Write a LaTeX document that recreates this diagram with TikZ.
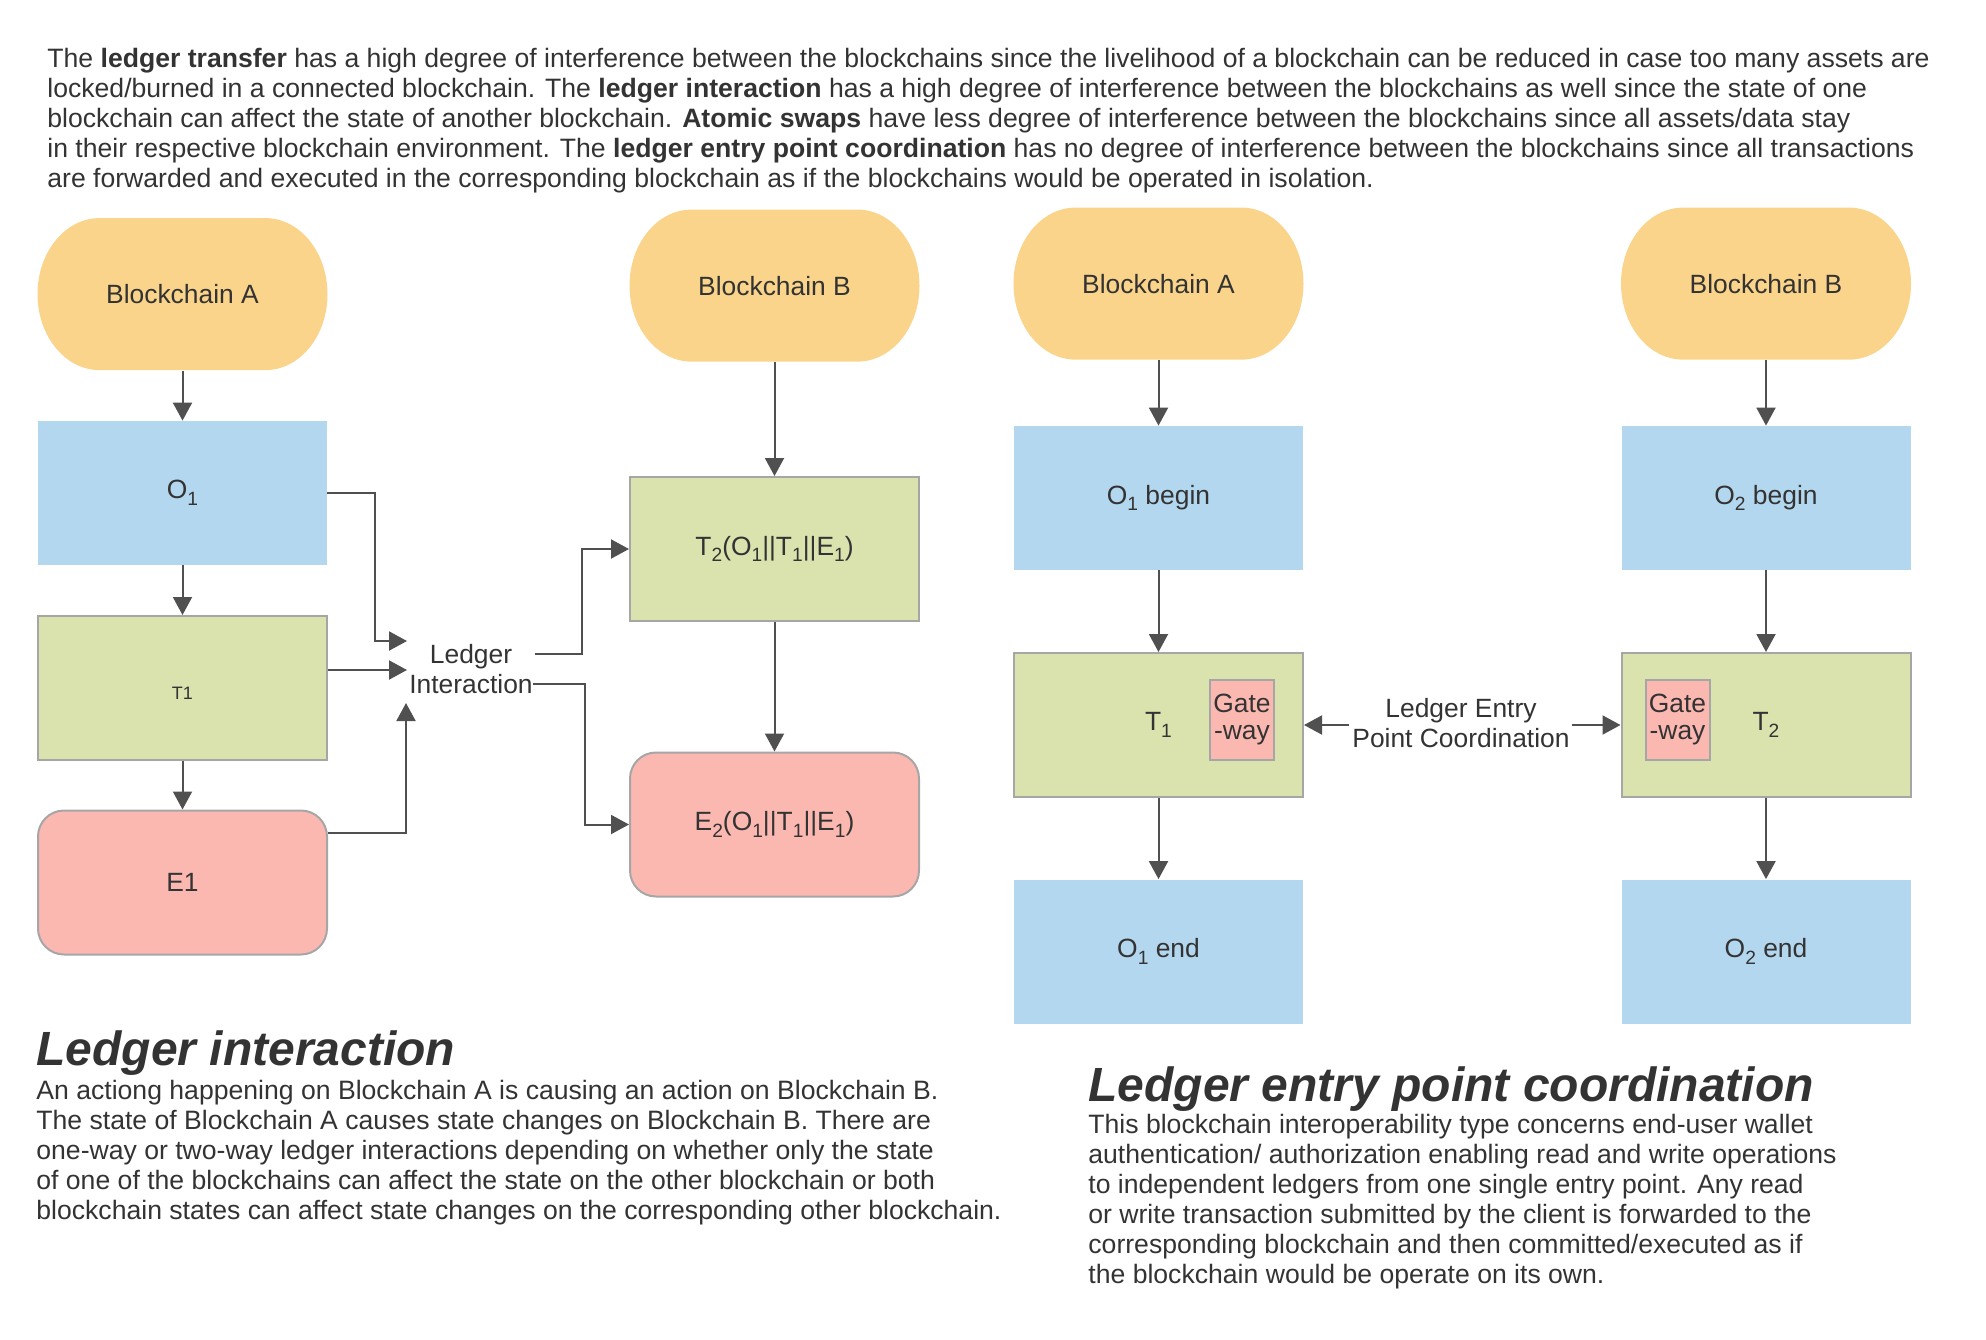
\documentclass[tikz,border=0pt]{standalone}
\usepackage{fontspec}
\setmainfont{Liberation Sans}
\usetikzlibrary{arrows.meta,backgrounds,calc}
\definecolor{txtC}{HTML}{333333}
\definecolor{chainC}{HTML}{FAD48A}
\definecolor{blueC}{HTML}{B3D7EE}
\definecolor{greenC}{HTML}{DAE2AE}
\definecolor{pinkC}{HTML}{FBB8B1}
\definecolor{borderC}{HTML}{A6A6A6}
\definecolor{arrC}{HTML}{505050}
\newcommand\sbs[1]{\raisebox{-3.4pt}{\fontsize{9.6}{10}\selectfont #1}}
\tikzset{
  bbox/.style={rectangle, minimum width=144.5pt, minimum height=72pt, inner sep=0pt,
    font=\fontsize{13.2}{15}\selectfont, text=txtC, align=center},
  bluebox/.style={bbox, fill=blueC},
  greenbox/.style={bbox, fill=greenC, draw=borderC, line width=1pt},
  pinkbox/.style={bbox, fill=pinkC, draw=borderC, line width=1pt, rounded corners=13pt},
  chainbox/.style={bbox, minimum height=76pt},
  gatebox/.style={rectangle, fill=pinkC, draw=borderC, line width=1pt, minimum width=32pt,
    minimum height=40pt, inner sep=0pt, font=\fontsize{13.2}{13.5}\selectfont, text=txtC, align=center},
  labtext/.style={inner sep=0pt, font=\fontsize{13.2}{15}\selectfont, text=txtC, align=center},
  paratext/.style={inner sep=0pt, font=\fontsize{13.3}{15}\selectfont, text=txtC, align=left, anchor=north west},
  headtext/.style={inner sep=0pt, font=\fontsize{24}{28}\selectfont\bfseries\itshape, text=txtC, anchor=base west},
  conn/.style={draw=arrC, line width=1pt, -{Triangle[length=9pt,width=9.5pt]}},
}
\begin{document}
\begin{tikzpicture}[x=0.5pt,y=-0.5pt]
\useasboundingbox (0,0) rectangle (1986,1339);

% top paragraph
\node[paratext] (intro) at (47,48) {The \textbf{ledger transfer} has a high degree of interference between the blockchains since the livelihood of a blockchain can be reduced in case too many assets are\\
locked/burned in a connected blockchain. The \textbf{ledger interaction} has a high degree of interference between the blockchains as well since the state of one\\
blockchain can affect the state of another blockchain. \textbf{Atomic swaps} have less degree of interference between the blockchains since all assets/data stay\\
in their respective blockchain environment. The \textbf{ledger entry point coordination} has no degree of interference between the blockchains since all transactions\\
are forwarded and executed in the corresponding blockchain as if the blockchains would be operated in isolation.};

% ---------- Ledger interaction ----------
\node[chainbox] (BA1) at (182.5,294.5) {Blockchain A};
\node[bluebox] (O1) at (182.5,493) {O\sbs{1}};
\node[greenbox] (T1) at (182.5,688) {\raisebox{-5.7pt}[0pt][0pt]{\fontsize{9}{10}\selectfont T1}};
\node[pinkbox] (E1) at (182.5,882.5) {E1};

\node[chainbox] (BB1) at (774.5,286) {Blockchain B};
\node[greenbox] (T2) at (774.5,549) {T\sbs{2}(O\sbs{1}||T\sbs{1}||E\sbs{1})};
\node[pinkbox] (E2) at (774.5,824.5) {E\sbs{2}(O\sbs{1}||T\sbs{1}||E\sbs{1})};

\node[labtext] (LI) at (471,669) {Ledger\\Interaction};
\coordinate (inA) at (407,641);
\coordinate (inB) at (407,670);
\coordinate (inC) at (406,703);

\draw[conn] (BA1) -- (O1);
\draw[conn] (O1) -- (T1);
\draw[conn] (T1) -- (E1);
\draw[conn] (BB1) -- (T2);
\draw[conn] (T2) -- (E2);
\draw[conn] (O1.east) -- ++(48,0) |- (inA);
\draw[conn] (T1.east |- inB) -- (inB);
\draw[conn] ($(E1.north east)+(0,23)$) -| (inC);
\draw[conn] ($(LI.east)+(2,-15)$) -- ++(47,0) |- (T2.west);
\draw[conn] ($(LI.east)+(0,15)$) -- ++(52,0) |- (E2.west);

% ---------- Ledger entry point coordination ----------
\node[chainbox] (BA2) at (1158.5,284) {Blockchain A};
\node[bluebox] (O1b) at (1158.5,498) {O\sbs{1} begin};
\node[greenbox] (T1b) at (1158.5,725) {T\sbs{1}};
\node[bluebox] (O1e) at (1158.5,951.5) {O\sbs{1} end};
\node[gatebox] (G1) at (1242,720) {Gate\\-way};

\node[chainbox] (BB2) at (1766,284) {Blockchain B};
\node[bluebox] (O2b) at (1766,498) {O\sbs{2} begin};
\node[greenbox] (T2b) at (1766,725) {T\sbs{2}};
\node[bluebox] (O2e) at (1766,951.5) {O\sbs{2} end};
\node[gatebox] (G2) at (1677.5,719.5) {Gate\\-way};

\node[labtext] (LEPC) at (1461,723) {Ledger Entry\\Point Coordination};

\draw[conn] (BA2) -- (O1b);
\draw[conn] (O1b) -- (T1b);
\draw[conn] (T1b) -- (O1e);
\draw[conn] (BB2) -- (O2b);
\draw[conn] (O2b) -- (T2b);
\draw[conn] (T2b) -- (O2e);
\draw[conn] ($(LEPC.west |- T1b.east)+(-3,0)$) -- (T1b.east);
\draw[conn] ($(LEPC.east |- T2b.west)+(2,0)$) -- (T2b.west);

% blockchain pill shapes
\begin{scope}[on background layer]
\foreach \n in {BA1,BB1,BA2,BB2}
  \fill[chainC] (\n.north) ++(-83,0) -- ++(166,0)
    arc[start angle=-90,end angle=90,x radius=62,y radius=76]
    -- ++(-166,0)
    arc[start angle=90,end angle=270,x radius=62,y radius=76] -- cycle;
\end{scope}

% bottom texts
\node[headtext] (H1) at (36,1065) {Ledger interaction};
\node[paratext] (P1) at (36,1080) {An actiong happening on Blockchain A is causing an action on Blockchain B.\\
The state of Blockchain A causes state changes on Blockchain B. There are\\
one-way or two-way ledger interactions depending on whether only the state\\
of one of the blockchains can affect the state on the other blockchain or both\\
blockchain states can affect state changes on the corresponding other blockchain.};

\node[headtext] (H2) at (1088,1101) {Ledger entry point coordination};
\node[paratext] (P2) at (1088,1114) {This blockchain interoperability type concerns end-user wallet\\
authentication/ authorization enabling read and write operations\\
to independent ledgers from one single entry point. Any read\\
or write transaction submitted by the client is forwarded to the\\
corresponding blockchain and then committed/executed as if\\
the blockchain would be operate on its own.};
\end{tikzpicture}
\end{document}
